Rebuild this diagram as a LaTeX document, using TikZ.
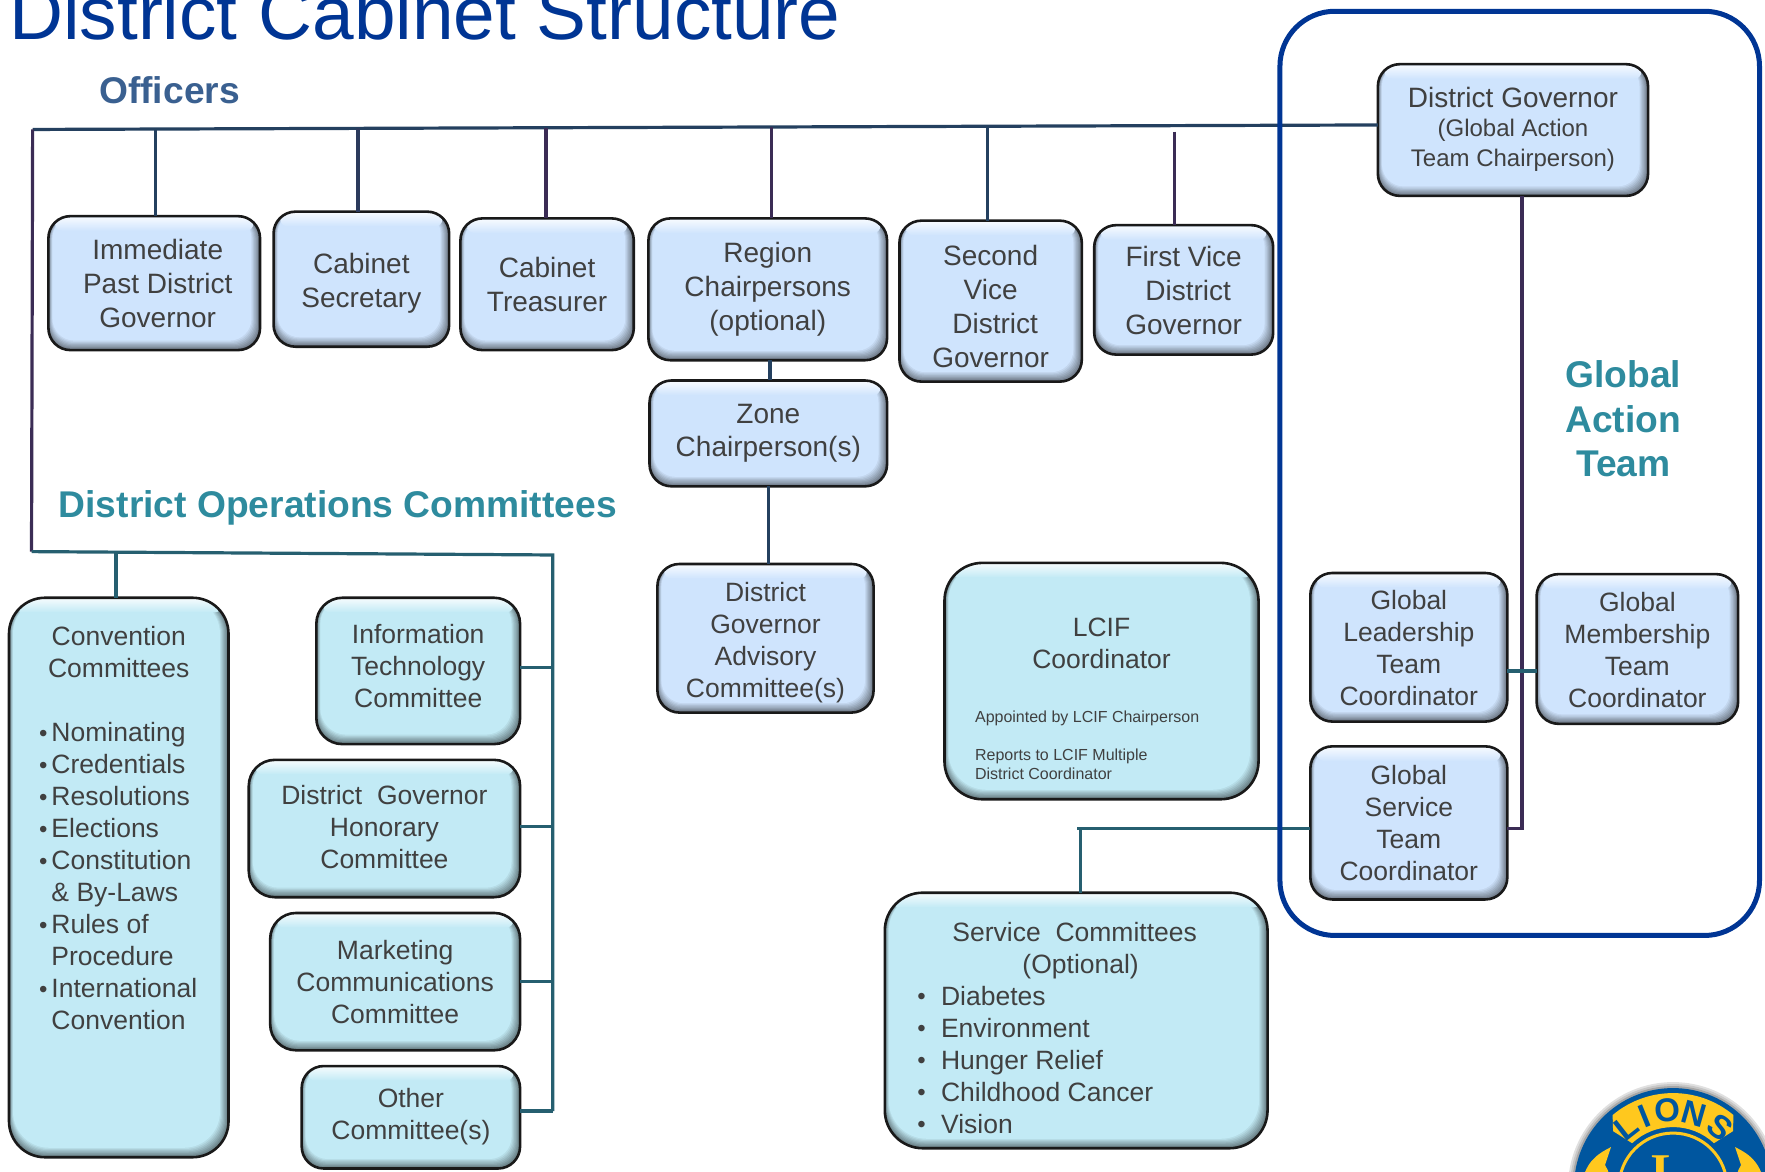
\documentclass[tikz,border=0pt]{standalone}
\usepackage{fontspec}
\setmainfont{Liberation Sans}
\newfontfamily\seriffam{Liberation Serif}
\definecolor{lightbox}{HTML}{CFE4FD}
\definecolor{cyanbox}{HTML}{C2EAF5}
\definecolor{txtc}{HTML}{404040}
\definecolor{navyln}{HTML}{24405F}
\definecolor{purpln}{HTML}{3B2C55}
\definecolor{tealln}{HTML}{265F70}
\definecolor{framec}{HTML}{003594}
\definecolor{headblue}{HTML}{3A6090}
\definecolor{headteal}{HTML}{2E8B9E}
\definecolor{lionblue}{HTML}{00569F}
\definecolor{liongold}{HTML}{FFC81E}
\tikzset{
  boxnode/.style={draw=black!90,line width=2.6pt,inner sep=0pt,outer sep=0pt,text=txtc,align=center},
  conn/.style={line width=3.2pt},
  headtxt/.style={font=\fontsize{37.2}{44.5}\selectfont\bfseries,inner sep=0pt,align=center},
}
% text block inside a box: dx dy size pitch spec rows
\newcommand\tc[6]{{\fontsize{#3}{#4}\selectfont\raisebox{\dimexpr#2pt-0.25em-3pt}[0pt][0pt]{\makebox[0pt][c]{\hspace{#1pt}\begin{tabular}[c]{@{}#5@{}}#6\end{tabular}\hspace{-#1pt}}}}}
\newcommand\smbul{{\fontsize{24}{24}\selectfont\raisebox{0.8pt}{•}}}
\newcommand\bxbul{\makebox[11.3pt][l]{\hspace{-1pt}\smbul}}
\newcommand\bxind{\hspace{11.3pt}}
\newcommand\sbul{\makebox[23.6pt][l]{\smbul}}
% name x1 y1 x2 y2 radius colour content
\newcommand\bx[8]{%
  \pgfmathsetmacro\bxcx{(#2+#4)/2}%
  \pgfmathsetmacro\bxcy{(#3+#5)/2}%
  \pgfmathsetmacro\bxw{(#4-#2)*1.1257}%
  \pgfmathsetmacro\bxh{(#5-#3)*1.1257}%
  \begin{scope}
    \clip[rounded corners=#6pt] (#2,#3) rectangle (#4,#5);
    \foreach \st in {0,...,8}{%
      \pgfmathsetmacro\mixp{52+6*\st}%
      \pgfmathsetmacro\xa{#2+0.45*\st}%
      \pgfmathsetmacro\xb{#4-0.95*\st}%
      \pgfmathsetmacro\yb{#5-1.05*\st}%
      \fill[#7!\mixp!black,rounded corners=#6pt] (\xa,#3) rectangle (\xb,\yb);
    }
    \shade[top color=white!80!#7,bottom color=#7,rounded corners=7pt] (#2+6,#3+1) rectangle (#4-6,#3+13);
  \end{scope}
  \node[boxnode,rounded corners=#6pt,minimum width=\bxw pt,minimum height=\bxh pt] (#1) at (\bxcx,\bxcy) {#8};
}
\begin{document}
\begin{tikzpicture}[x=1.1257pt,y=-1.1257pt]
\useasboundingbox (0,0) rectangle (1567.9,1041.1);
% title and headings
\node[anchor=base west,inner sep=0pt,text=framec,font=\fontsize{74.8}{80}\selectfont] (title) at (8,35) {District Cabinet Structure};
\node[anchor=base west,headtxt,text=headblue] (officers) at (88,92) {Officers};
\node[anchor=base west,headtxt,text=headteal] (opscom) at (52,460) {District Operations Committees};
\node[headtxt,text=headteal] (gat) at (1442,372) {Global\\Action\\Team};

% boxes, upper row
\bx{ipdg}{43}{192}{231}{311}{22}{lightbox}{\tc{3.5}{0}{28}{33.8}{c}{Immediate\hspace{8pt}\\Past District\\Governor}}
\bx{sec}{243}{188}{399}{308}{22}{lightbox}{\tc{0}{-1}{28}{33.8}{c}{Cabinet\\Secretary}}
\bx{treas}{409}{194}{563}{311}{22}{lightbox}{\tc{0}{0}{28}{33.8}{c}{Cabinet\hspace{6.7pt}\\Treasurer}}
\bx{region}{576}{194}{788}{320}{22}{lightbox}{\tc{0}{3.5}{28}{33.8}{c}{Region\\Chairpersons\\(optional)}}
\bx{zone}{577}{338}{788}{432}{22}{lightbox}{\tc{0}{4}{28}{33.8}{c}{Zone\\Chairperson(s)}}
\bx{svdg}{799}{196}{961}{339}{22}{lightbox}{\tc{0}{-5}{28}{33.8}{c}{Second\\Vice\\\hspace{9pt}District\\Governor}}
\bx{fvdg}{972}{200}{1131}{315}{22}{lightbox}{\tc{0}{0}{28}{33.8}{c}{First Vice\\\hspace{9pt}District\\Governor}}
\bx{dg}{1224}{57}{1464}{174}{22}{lightbox}{\tc{0}{2}{24}{29.5}{c}{{\fontsize{28}{30}\selectfont District Governor}\\(Global Action\\Team Chairperson)}}
\bx{advis}{584}{501}{776}{633}{22}{lightbox}{\tc{0}{-1}{26.5}{32}{c}{District\\Governor\\Advisory\\Committee(s)}}
\bx{glt}{1164}{509}{1339}{641}{22}{lightbox}{\tc{0}{0}{26.5}{32}{c}{Global\\Leadership\\Team\\Coordinator}}
\bx{gmt}{1365}{510}{1544}{643}{22}{lightbox}{\tc{0}{-1}{26.5}{32}{c}{Global\\Membership\\Team\\Coordinator}}
\bx{gst}{1164}{663}{1339}{799}{22}{lightbox}{\tc{0}{0}{26.5}{32}{c}{Global\\Service\\Team\\Coordinator}}

% connectors
\coordinate (trL) at (29,115);
\coordinate (trR) at (1223,111);
\coordinate (botL) at (28,490);
\coordinate (botR) at (491,493);
\coordinate (vEnd) at (491,987);
\draw[conn,navyln] (trL) -- (dg.west |- trR);
\draw[conn,purpln] (trL) -- (botL);
\draw[conn,tealln] (botL) -- (botR) -- (vEnd);
\coordinate (j1) at (138,115); \draw[conn,navyln] (j1) -- (j1 |- ipdg.north);
\coordinate (j2) at (318,114); \draw[conn,navyln!70!purpln] (j2) -- (j2 |- sec.north);
\coordinate (j3) at (485,114); \draw[conn,purpln] (j3) -- (j3 |- treas.north);
\coordinate (j4) at (685,113); \draw[conn,purpln] (j4) -- (j4 |- region.north);
\coordinate (j5) at (877,112); \draw[conn,navyln] (j5) -- (j5 |- svdg.north);
\coordinate (j6) at (1043,117); \draw[conn,purpln] (j6) -- (j6 |- fvdg.north);
\coordinate (j7) at (684,330); \draw[conn,navyln] (j7 |- region.south) -- (j7 |- zone.north);
\coordinate (j8) at (683,470); \draw[conn,navyln] (j8 |- zone.south) -- (j8 |- advis.north);
\coordinate (j9) at (1352,400); \coordinate (j10) at (1352,736);
\draw[conn,purpln] (j9 |- dg.south) -- (j10) -- (gst.east |- j10);
\coordinate (j11) at (1350,596); \draw[conn,tealln] (glt.east |- j11) -- (gmt.west |- j11);

% cyan boxes
\bx{conv}{8}{531}{203}{1028}{36}{cyanbox}{\tc{0}{49.5}{26.5}{32}{l}{\multicolumn{1}{@{}c@{}}{Convention}\\\multicolumn{1}{@{}c@{}}{Committees}\\[0pt]\\\bxbul Nominating\\\bxbul Credentials\\\bxbul Resolutions\\\bxbul Elections\\\bxbul Constitution\\\bxind \& By-Laws\\\bxbul Rules of\\\bxind Procedure\\\bxbul International\\\bxind Convention}}
\bx{itc}{281}{531}{462}{661}{26}{cyanbox}{\tc{0}{5.6}{26.5}{32}{c}{Information\\Technology\\Committee}}
\bx{dgh}{221}{675}{462}{797}{26}{cyanbox}{\tc{0}{2}{26.5}{32}{c}{District\ \ Governor\\Honorary\\Committee}}
\bx{mkt}{240}{811}{462}{933}{26}{cyanbox}{\tc{0}{0}{26.5}{32}{c}{Marketing\\Communications\\Committee}}
\bx{oth}{268}{947}{462}{1038}{22}{cyanbox}{\tc{0}{4}{26.5}{32}{c}{Other\\Committee(s)}}
\bx{lcif}{839}{500}{1118}{710}{38}{cyanbox}{\tc{0}{38}{26.5}{32}{c}{LCIF\\Coordinator}}
\node[anchor=west,inner sep=0pt,text=txtc,align=left,font=\fontsize{16}{19.1}\selectfont] (lcifnote) at (866,662) {Appointed by LCIF Chairperson\\[19.1pt]Reports to LCIF Multiple\\District Coordinator};
\bx{serv}{786}{793}{1126}{1020}{38}{cyanbox}{\tc{-19}{-7.3}{26.5}{32}{l}{\hspace{35pt}Service\ \ Committees\\\hspace{105pt}(Optional)\\\sbul Diabetes\\\sbul Environment\\\sbul Hunger Relief\\\sbul Childhood Cancer\\\sbul Vision}}

\coordinate (k0) at (103,491); \draw[conn,tealln] (k0) -- (k0 |- conv.north);
\coordinate (k1) at (491,593); \draw[conn,tealln] (itc.east |- k1) -- (k1);
\coordinate (k2) at (491,734); \draw[conn,tealln] (dgh.east |- k2) -- (k2);
\coordinate (k3) at (491,872); \draw[conn,tealln] (mkt.east |- k3) -- (k3);
\draw[conn,tealln] (oth.east |- vEnd) -- (vEnd);
\coordinate (k4) at (957,736); \coordinate (k5) at (960,736);
\draw[conn,tealln] (gst.west |- k4) -- (k4);
\draw[conn,tealln] (k5) -- (k5 |- serv.north);

% Global Action Team frame
\draw[framec,line width=5pt,rounded corners=55pt] (1137,10) rectangle (1563,831);

% Lions emblem
\begin{scope}[shift={(1486.2,1054.5)},x=1pt,y=1pt]
  \foreach \rr/\gg in {105/12,103/22,101/35}{\fill[black!\gg] (0,0) circle (\rr);}
  \fill[lionblue] (0,0) circle (99);
  \fill[lionblue] (-100,-25) circle (22);
  \fill[lionblue] (100,-25) circle (22);
  \fill[liongold] (130:94) arc (130:50:94) -- (43:82) -- (47:60) arc (47:133:60) -- (137:82) -- cycle;
  \fill[liongold] (-62,40) .. controls (-78,32) and (-88,24) .. (-92,0) -- (-78,-15) .. controls (-60,-10) and (-60,10) .. (-68,22) -- cycle;
  \fill[liongold] (62,40) .. controls (78,32) and (88,24) .. (92,0) -- (78,-15) .. controls (60,-10) and (60,10) .. (68,22) -- cycle;
  \draw[liongold,line width=3pt] (0,0) circle (54);
  \node[text=liongold,inner sep=0pt,anchor=base,font=\seriffam\bfseries\fontsize{50}{50}\selectfont] (lionL) at (-5,-1) {L};
  \foreach \nm/\ch/\an/\rad in {a/L/128/76,b/I/112/76,c/O/94/77,d/N/74/76,e/S/52/76}{
    \pgfmathsetmacro\rot{\an-90}
    \node[text=lionblue,inner sep=0pt,rotate=\rot,font=\bfseries\fontsize{33}{33}\selectfont] (lion\nm) at (\an:\rad) {\ch};
  }
\end{scope}
\end{tikzpicture}
\end{document}
